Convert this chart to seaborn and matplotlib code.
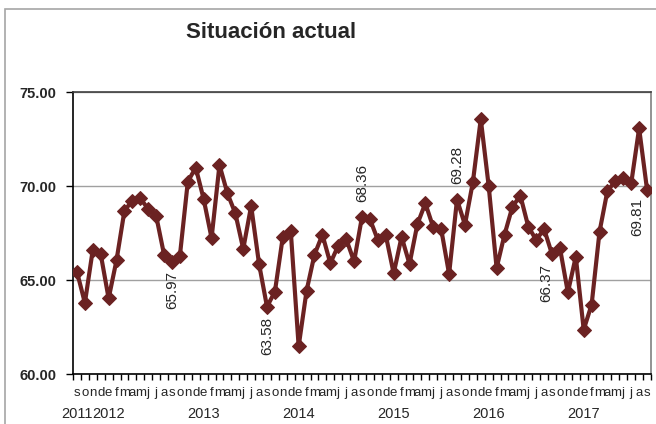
import numpy as np
import pandas as pd
import matplotlib
matplotlib.use('Agg')
import matplotlib.pyplot as plt
from matplotlib.patches import Rectangle
import seaborn as sns

# monthly values, Sep 2011 - Sep 2017
values = [65.44, 63.78, 66.61, 66.38,
          64.02, 66.06, 68.69, 69.22, 69.34, 68.78, 68.42, 66.35, 65.97, 66.29, 70.23, 70.98,
          69.31, 67.23, 71.12, 69.61, 68.55, 66.65, 68.94, 65.85, 63.58, 64.38, 67.30, 67.62,
          61.47, 64.43, 66.35, 67.41, 65.89, 66.83, 67.18, 65.99, 68.36, 68.24, 67.13, 67.39,
          65.35, 67.30, 65.85, 67.98, 69.08, 67.80, 67.71, 65.32, 69.28, 67.94, 70.20, 73.56,
          70.00, 65.64, 67.41, 68.90, 69.49, 67.84, 67.13, 67.71, 66.37, 66.70, 64.34, 66.24,
          62.36, 63.69, 67.57, 69.75, 70.25, 70.43, 70.14, 73.07, 69.81]
month_letters = ['e', 'f', 'm', 'a', 'm', 'j', 'j', 'a', 's', 'o', 'n', 'd']
years = [2011, 2012, 2013, 2014, 2015, 2016, 2017]
start_month = 9  # september 2011
# points with a value label: index -> above/below
labelled = {12: 'below', 24: 'below', 36: 'above', 48: 'above', 60: 'below', 72: 'below'}
y_ticks = [60, 65, 70, 75]

# month letters for the ticks, year under the first point and each january
tick_labels = []
year_pos = []
for i in range(len(values)):
    m = (start_month - 1 + i) % 12
    tick_labels.append(month_letters[m])
    if i == 0 or m == 0:
        year_pos.append(i)

df = pd.DataFrame({'pos': np.arange(len(values)), 'value': values})

sns.set_style('white')
plt.rcParams['font.family'] = ['Liberation Sans', 'DejaVu Sans']

fig = plt.figure(figsize=(6.56, 4.24), dpi=100)
ax = fig.add_axes([73/656, 50/424, 578/656, 282/424])

# chart area border
fig.patches.append(Rectangle((5/656, -0.1), 1.2, (415/424) + 0.1, transform=fig.transFigure,
                             fill=False, edgecolor='#a6a6a6', linewidth=1.2))

sns.lineplot(data=df, x='pos', y='value', ax=ax, color='#6b2222', linewidth=3,
             marker='D', markersize=7.5, markeredgecolor='#6b2222', zorder=3)

for i, where in labelled.items():
    if where == 'above':
        off, va = (0, 11), 'bottom'
    else:
        off, va = (-4 if i >= 60 else 0, -7), 'top'
        if i == 72:
            off = (-7, -6)
    ax.annotate(f'{values[i]:.2f}', (i, values[i]), xytext=off, textcoords='offset points',
                rotation=90, ha='center', va=va, fontsize=11)

for i, yr in zip(year_pos, years):
    ax.annotate(str(yr), (i, 0), xycoords=('data', 'axes fraction'), xytext=(0, -24),
                textcoords='offset points', ha='center', va='top', fontsize=10.5)

ax.set_xlim(-0.5, len(values) - 0.5)
ax.set_ylim(60, 75)
ax.set_yticks(y_ticks)
ax.set_yticklabels([f'{v:.2f}' for v in y_ticks], fontsize=10.5, fontweight='bold')
ax.set_xticks(df['pos'])
ax.set_xticklabels(tick_labels, fontsize=9.5)
ax.set_xticks(np.arange(-0.5, len(values)), minor=True)
ax.tick_params(axis='x', which='major', length=0, pad=9.5)
ax.tick_params(axis='x', which='minor', length=4, width=1, color='black', direction='out', bottom=True)
ax.tick_params(axis='y', length=5, width=1, color='black', direction='out', left=True, pad=7)
ax.set_xlabel('')
ax.set_ylabel('')

ax.yaxis.grid(True, color='#a0a0a0', linewidth=1)
ax.set_axisbelow(True)
ax.spines['left'].set_color('black')
ax.spines['bottom'].set_color('black')
ax.spines['top'].set_color('#404040')
ax.spines['right'].set_color('#808080')
for s in ax.spines.values():
    s.set_linewidth(1.2)

fig.text(271/656, 1 - 32/424, 'Situación actual', ha='center', va='center',
         fontsize=16, fontweight='bold')

fig.savefig('out.png', dpi=100)
